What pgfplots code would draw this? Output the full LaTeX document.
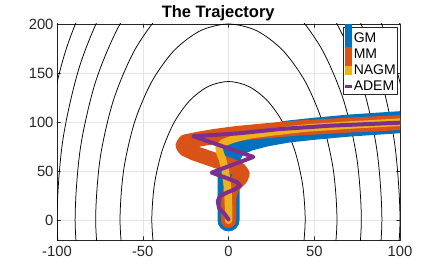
\documentclass[border=0pt]{standalone}
\usepackage{fontspec}
\setmainfont{Liberation Sans}
\usepackage{pgfplots}
\pgfplotsset{compat=1.18}
\definecolor{cGM}{RGB}{0,114,189}
\definecolor{cMM}{RGB}{217,83,25}
\definecolor{cNAGM}{RGB}{237,177,32}
\definecolor{cADEM}{RGB}{126,47,142}
\definecolor{axgray}{RGB}{38,38,38}
\newcommand{\lbar}[3]{{\color{#1}\rule[#2]{7pt}{#3}}\hspace{2pt}}
\begin{document}
\begin{tikzpicture}
\begin{axis}[
  scale only axis, width=343pt, height=216pt,
  xmin=-100, xmax=100, ymin=-20, ymax=200,
  xtick={-100,-50,0,50,100}, ytick={0,50,100,150,200},
  grid=major, major grid style={draw=black!10, line width=0.5pt},
  axis line style={draw=axgray, line width=0.5pt},
  tick style={draw=axgray, line width=0.5pt},
  tick align=inside, major tick length=3.5pt,
  ticklabel style={font=\fontsize{14.8}{16}\selectfont, text=axgray},
  xticklabel style={yshift=-2.5pt},
  /pgf/number format/assume math mode=true,
  title={The Trajectory},
  title style={at={(0.47,1)}, anchor=base, yshift=0.7pt, inner sep=0pt, font=\bfseries\fontsize{16.5}{18}\selectfont},
  legend cell align=left,
  legend style={at={(0.994,0.988)}, anchor=north east, draw=axgray, line width=0.5pt, fill=white,
    inner sep=1.5pt, font=\fontsize{14}{16}\selectfont,
    nodes={inner sep=0.4pt, text height=13.5pt, text depth=1.8pt}},
  legend image code/.code={},
  line join=round, line cap=round,
]
% contours of f = x^2 + 0.1 y^2
\addplot[black, line width=0.75pt, smooth, forget plot] coordinates {(43.20,-36.60) (44.72,0) (43.20,36.60) (38.73,70.71) (31.62,100) (22.36,122.47) (11.57,136.60) (0,141.42) (-11.57,136.60) (-22.36,122.47) (-31.62,100) (-38.73,70.71) (-43.20,36.60) (-44.72,0) (-43.20,-36.60)};
\addplot[black, line width=0.75pt, smooth, forget plot] coordinates {(61.09,-51.76) (63.25,0) (61.09,51.76) (54.77,100) (44.72,141.42) (31.62,173.21) (16.37,193.19) (0,200) (-16.37,193.19) (-31.62,173.21) (-44.72,141.42) (-54.77,100) (-61.09,51.76) (-63.25,0) (-61.09,-51.76)};
\addplot[black, line width=0.75pt, smooth, forget plot] coordinates {(74.82,-63.40) (77.46,0) (74.82,63.40) (67.08,122.47) (54.77,173.21) (38.73,212.13) (20.05,236.60) (0,244.95) (-20.05,236.60) (-38.73,212.13) (-54.77,173.21) (-67.08,122.47) (-74.82,63.40) (-77.46,0) (-74.82,-63.40)};
\addplot[black, line width=0.75pt, smooth, forget plot] coordinates {(86.39,-73.20) (89.44,0) (86.39,73.20) (77.46,141.42) (63.25,200) (44.72,244.95) (23.15,273.21) (0,282.84) (-23.15,273.21) (-44.72,244.95) (-63.25,200) (-77.46,141.42) (-86.39,73.20) (-89.44,0) (-86.39,-73.20)};
\addplot[black, line width=0.75pt, smooth, forget plot] coordinates {(96.59,-81.85) (100,0) (96.59,81.85) (86.60,158.11) (70.71,223.61) (50,273.86) (25.88,305.45) (0,316.23) (-25.88,305.45) (-50,273.86) (-70.71,223.61) (-86.60,158.11) (-96.59,81.85) (-100,0) (-96.59,-81.85)};
\addplot[black, line width=0.75pt, smooth, forget plot] coordinates {(105.81,-89.66) (109.54,0) (105.81,89.66) (94.87,173.21) (77.46,244.95) (54.77,300) (28.35,334.61) (0,346.41) (-28.35,334.61) (-54.77,300) (-77.46,244.95) (-94.87,173.21) (-105.81,89.66) (-109.54,0) (-105.81,-89.66)};
\addplot[black, line width=0.75pt, smooth, forget plot] coordinates {(114.29,-96.84) (118.32,0) (114.29,96.84) (102.47,187.08) (83.67,264.58) (59.16,324.04) (30.62,361.42) (0,374.17) (-30.62,361.42) (-59.16,324.04) (-83.67,264.58) (-102.47,187.08) (-114.29,96.84) (-118.32,0) (-114.29,-96.84)};
% trajectories
\addplot[cGM, line width=22pt] coordinates {(100,100) (70,96.5) (50,93.3) (35,90.5) (22,86.5) (12,82) (6,77.5) (3,72.5) (1.2,67) (0.4,61) (0.1,54) (0,45) (0,30) (0,15) (0,0)};
\addlegendentry{\lbar{cGM}{-4.35pt}{22.4pt}GM}
\addplot[cMM, line width=15pt] coordinates {(100,99.5) (70,97) (40,94) (20,91) (5,88.5) (-8,85.5) (-18,82.5) (-25,80) (-26.5,76.5) (-25.5,73) (-20,68.5) (-10,62.5) (0,56.5) (6,52) (8,47.5) (7,43) (4,38) (1.5,32) (0.3,24) (0,14) (0,5) (0,0)};
\addlegendentry{\lbar{cMM}{-9.85pt}{21.6pt}MM}
\addplot[cNAGM, line width=7.5pt] coordinates {(100,100) (70,97) (45,94) (25,90) (12,87) (3,83) (-3,79) (-5.5,74.5) (-5,69) (-3.5,62) (-2,52) (-1,40) (-0.3,28) (0,15) (0,0)};
\addlegendentry{\lbar{cNAGM}{-0.45pt}{9.3pt}NAGM}
\addplot[cADEM, line width=4pt] coordinates {(100,99.5) (60,96.5) (30,93) (5,88.5) (-20.5,85.7) (14.5,64.6) (-9.8,48.6) (-0.1,42.5) (4.8,39) (6.7,35.7) (3.8,31.6) (-0.1,28.9) (-5,24.8) (-6.3,19.4) (-5.5,12.6) (-2.4,6.8) (0,1)};
\addlegendentry{\lbar{cADEM}{2.35pt}{3.3pt}ADEM}
\end{axis}
\pgfresetboundingbox
\path[use as bounding box] ([xshift=-57pt,yshift=-30pt]current axis.south west) rectangle ([xshift=43pt,yshift=24pt]current axis.north east);
\end{tikzpicture}
\end{document}
